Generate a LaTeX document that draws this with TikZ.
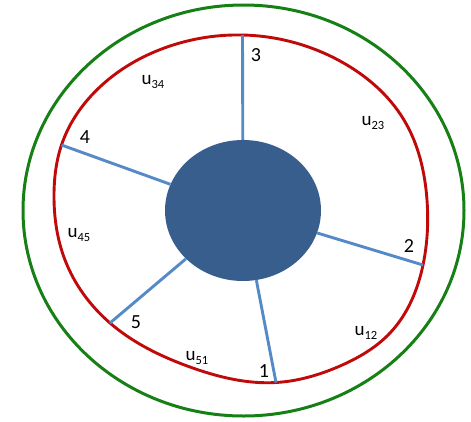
\documentclass[tikz,border=0pt]{standalone}
\usepackage{fontspec}
\setmainfont{Carlito}
\usetikzlibrary{shapes.geometric,hobby}
\definecolor{ringgreen}{RGB}{22,128,22}
\definecolor{rimred}{RGB}{192,10,10}
\definecolor{spokeblue}{RGB}{85,138,200}
\definecolor{hubblue}{RGB}{56,94,142}
\newcommand{\ulab}[1]{u\raisebox{-0.35ex}{\fontsize{12.5}{12.5}\selectfont #1}}

\begin{document}
\begin{tikzpicture}[x=1pt,y=-1pt,
    rim/.style={draw=rimred,line width=2.9pt,line join=round},
    spoke/.style={draw=spokeblue,line width=2.9pt},
    num/.style={font=\fontsize{20}{20}\selectfont,inner sep=0pt},
    lab/.style={font=\fontsize{19}{19}\selectfont,inner sep=0pt}]
    \useasboundingbox (0,0) rectangle (471,421);
    % outer ring
    \draw[ringgreen,line width=3pt] (243.5,210.5) ellipse (220.5pt and 205.5pt);
    % hub
    \node[ellipse,fill=hubblue,minimum width=156pt,minimum height=141pt,inner sep=0pt]
      (hub) at (243,210.5) {};
    % joints on the rim
    \coordinate (p1) at (276,382.5);
    \coordinate (p2) at (423,265);
    \coordinate (p3) at (242.5,35);
    \coordinate (p4) at (61.5,145);
    \coordinate (p5) at (110,323);
    % rim
    \draw[rim,use Hobby shortcut,closed=true]
      (p3) .. (340,61) .. (404,120) .. (427,200) .. (p2)
      .. (390,333) .. (340,366) .. (p1)
      .. (190,367) .. (p5)
      .. (65,260) .. (54,195) .. (p4)
      .. (102,85) .. (170,46);
    % spokes
    \foreach \p in {1,...,5}
      \draw[spoke] (hub) -- (p\p);
    % joint numbers
    \node[num] (n3) at (256,55) {3};
    \node[num] (n4) at (85,137) {4};
    \node[num] (n2) at (409,246) {2};
    \node[num] (n5) at (136,322) {5};
    \node[num] (n1) at (264,371) {1};
    % segment labels
    \node[lab] (u34) at (153,82) {\ulab{34}};
    \node[lab] (u23) at (373,123) {\ulab{23}};
    \node[lab] (u45) at (79,235) {\ulab{45}};
    \node[lab] (u51) at (197,358) {\ulab{51}};
    \node[lab] (u12) at (366,333) {\ulab{12}};
\end{tikzpicture}
\end{document}
